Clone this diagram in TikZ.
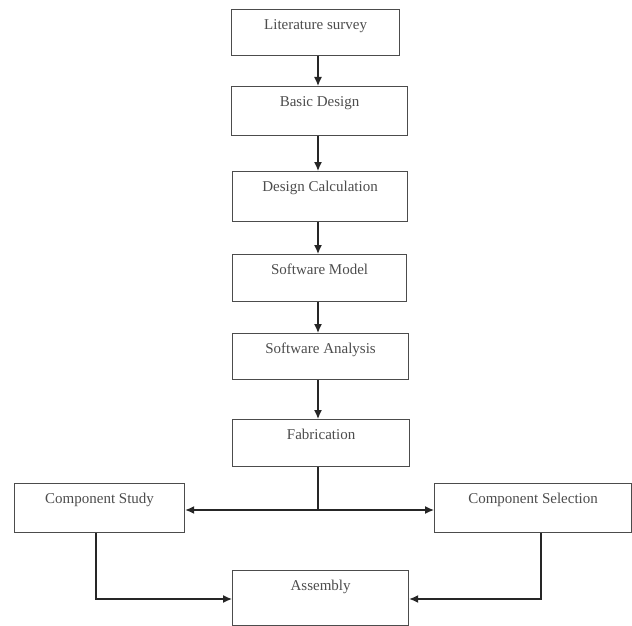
\documentclass[tikz,border=0pt]{standalone}
\usepackage{fontspec}
\setmainfont{Liberation Serif}
\usetikzlibrary{arrows.meta}
\begin{document}
\begin{tikzpicture}[x=1pt,y=-1pt,
  box/.style={draw=black!70, line width=1.2pt, rectangle, inner sep=0pt,
    font=\fontsize{15}{17}\selectfont, text=black!70, anchor=north west, text height=20pt},
  arr/.style={draw=black!85, line width=1.3pt, -{Latex[length=9pt,width=8pt]}},
  ln/.style={draw=black!85, line width=1.3pt}]
\useasboundingbox (0,0) rectangle (632,626);
\node[box, minimum width=168pt, minimum height=46pt, text depth=26pt] (lit) at (231,9) {Literature survey};
\node[box, minimum width=176pt, minimum height=49pt, text depth=29pt] (basic) at (231,86) {Basic Design};
\node[box, minimum width=175pt, minimum height=50pt, text depth=30pt] (calc) at (232,171) {Design Calculation};
\node[box, minimum width=174pt, minimum height=47pt, text depth=27pt] (model) at (232,254) {Software Model};
\node[box, minimum width=176pt, minimum height=46pt, text depth=26pt] (anal) at (232,333) {Software Analysis};
\node[box, minimum width=177pt, minimum height=47pt, text depth=27pt] (fab) at (232,419) {Fabrication};
\node[box, minimum width=170pt, minimum height=49pt, text depth=29pt] (cs) at (14,483) {Component Study};
\node[box, minimum width=197pt, minimum height=49pt, text depth=29pt] (sel) at (434,483) {Component Selection};
\node[box, minimum width=176pt, minimum height=55pt, text depth=35pt] (asm) at (232,570) {Assembly};
\coordinate (sp) at (318,0);
\coordinate (j) at (318,510);
\coordinate (lc) at (96,599);
\coordinate (rc) at (541,599);
\draw[arr] (lit.south -| sp) -- (basic.north -| sp);
\draw[arr] (basic.south -| sp) -- (calc.north -| sp);
\draw[arr] (calc.south -| sp) -- (model.north -| sp);
\draw[arr] (model.south -| sp) -- (anal.north -| sp);
\draw[arr] (anal.south -| sp) -- (fab.north -| sp);
\draw[ln] (fab.south -| sp) -- (j);
\draw[arr] (j) -- (cs.east |- j);
\draw[arr] (j) -- (sel.west |- j);
\draw[arr] (cs.south -| lc) -- (lc) -- (asm.west |- lc);
\draw[arr] (sel.south -| rc) -- (rc) -- (asm.east |- rc);
\end{tikzpicture}
\end{document}
